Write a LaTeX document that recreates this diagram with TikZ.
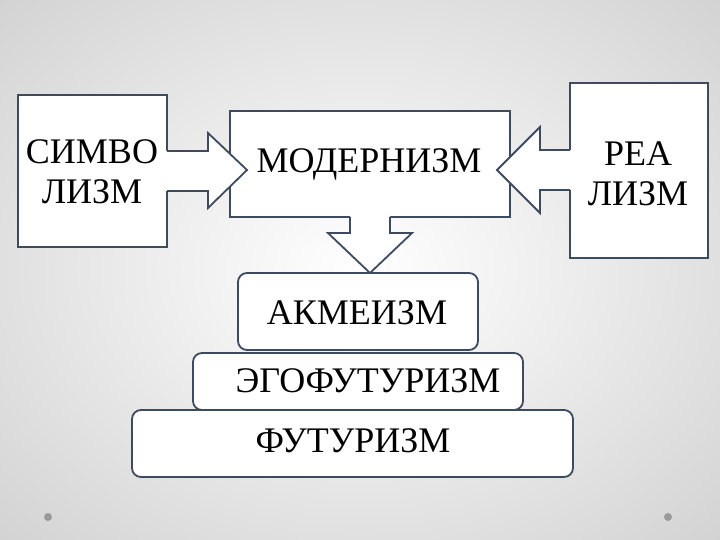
\documentclass[tikz,border=0pt]{standalone}
\usepackage{fontspec}
\setmainfont{Liberation Serif}
\begin{document}
\begin{tikzpicture}[x=1pt,y=-1pt,
  bd/.style={draw=bcol,line width=1.8pt,fill=white},
  rb/.style={bd,rounded corners=9pt},
  txt/.style={font=\fontsize{36}{40}\selectfont,align=center,inner sep=0pt}]
\definecolor{bcol}{HTML}{3E4A5E}
\definecolor{bgout}{HTML}{D2D2D2}
\useasboundingbox (0,0) rectangle (720,540);
\shade[inner color=white,outer color=bgout] (-160,-120) rectangle (880,660);
% boxes
\draw[bd] (18,95) rectangle (167,247);
\draw[bd] (230,111) rectangle (510,217);
\draw[bd] (570,83) rectangle (708,258);
% arrows
\fill[white] (166,151) -- (208,151) -- (208,133) -- (247,170) -- (208,208) -- (208,191) -- (166,191) -- cycle;
\draw[bcol,line width=1.8pt,line join=miter] (167,151) -- (208,151) -- (208,133) -- (247,170) -- (208,208) -- (208,191) -- (167,191);
\fill[white] (571,150) -- (540,150) -- (540,127) -- (497,170) -- (540,213) -- (540,190) -- (571,190) -- cycle;
\draw[bcol,line width=1.8pt] (570,150) -- (540,150) -- (540,127) -- (497,170) -- (540,213) -- (540,190) -- (570,190);
\fill[white] (350,216) -- (350,233) -- (328,233) -- (370,273) -- (412,233) -- (390,233) -- (390,216) -- cycle;
\draw[bcol,line width=1.8pt] (350,217) -- (350,233) -- (328,233) -- (370,273) -- (412,233) -- (390,233) -- (390,217);
% stacked boxes
\draw[rb] (132,410) rectangle (573,477);
\draw[rb] (193,353) rectangle (523,410);
\draw[rb] (238,273) rectangle (478,350);
% texts
\node[txt] (s) at (92,172) {СИМВО\\ЛИЗМ};
\node[txt] (m) at (369,164) {МОДЕРНИЗМ};
\node[txt] (r) at (638,174) {РЕА\\ЛИЗМ};
\node[txt] (a) at (357,313) {АКМЕИЗМ};
\node[txt] (e) at (368,381) {ЭГОФУТУРИЗМ};
\node[txt] (f) at (353,441) {ФУТУРИЗМ};
\fill[gray!80] (48,517) circle (4);
\fill[gray!80] (668,517) circle (4);
\end{tikzpicture}
\end{document}
